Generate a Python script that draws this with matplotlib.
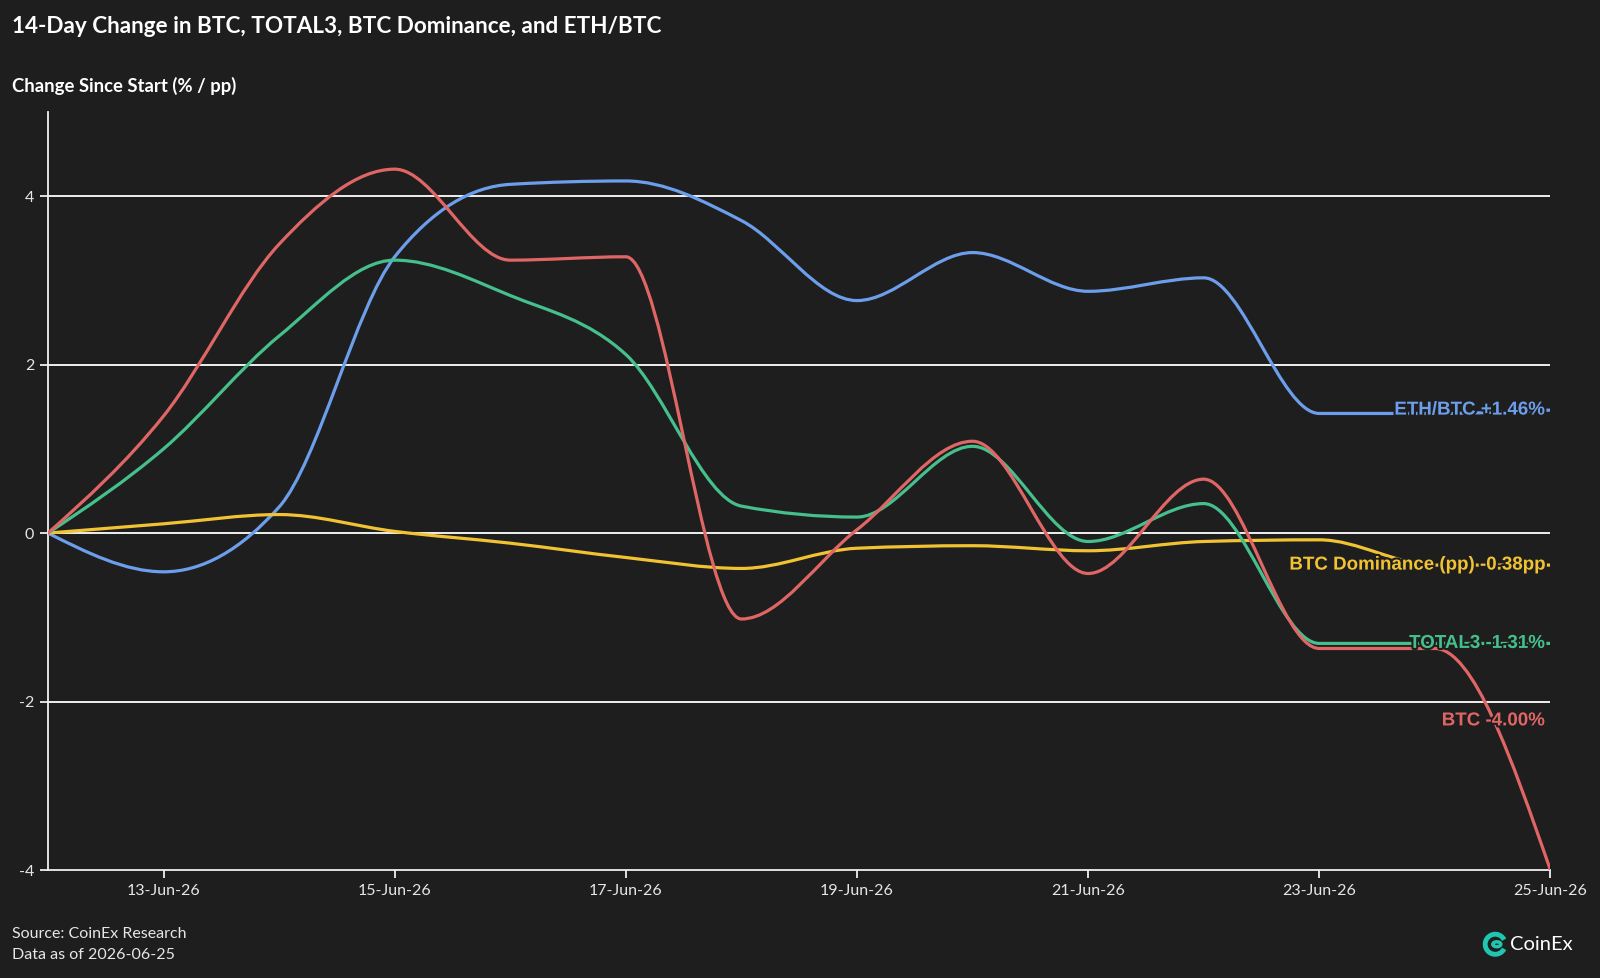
import matplotlib
matplotlib.use("Agg")
import matplotlib.pyplot as plt
import matplotlib.dates as mdates
import matplotlib.patheffects as pe
from matplotlib.path import Path
from matplotlib.patches import PathPatch, Arc, Circle
import numpy as np
import pandas as pd

# daily values (change since 12-Jun, % or pp)
dates = pd.date_range("2026-06-12", "2026-06-25", freq="D")
btc = [0.0, 1.39, 3.43, 4.32, 3.24, 3.28, -1.02, 0.04, 1.09, -0.48, 0.64, -1.37, -1.37, -4.00]
total3 = [0.0, 1.00, 2.34, 3.24, 2.82, 2.12, 0.32, 0.19, 1.03, -0.10, 0.35, -1.31, -1.31, -1.31]
btc_dom = [0.0, 0.11, 0.22, 0.02, -0.12, -0.29, -0.42, -0.18, -0.15, -0.21, -0.10, -0.08, -0.38, -0.38]
eth_btc = [0.0, -0.46, 0.31, 3.28, 4.14, 4.18, 3.71, 2.76, 3.33, 2.87, 3.03, 1.42, 1.42, 1.46]

series_names = ["ETH/BTC", "BTC Dominance (pp)", "TOTAL3", "BTC"]
series_vals = [eth_btc, btc_dom, total3, btc]
end_labels = ["ETH/BTC +1.46%", "BTC Dominance (pp) -0.38pp", "TOTAL3 -1.31%", "BTC -4.00%"]
label_y = [1.46, -0.38, -1.31, -2.23]
colors = ["#6d9eeb", "#f1c232", "#45c08c", "#e06666"]

BG = "#1e1e1e"


def monotone_path(x, y):
    # cubic bezier path like d3.curveMonotoneX
    x = np.asarray(x, float)
    y = np.asarray(y, float)
    h = np.diff(x)
    s = np.diff(y) / h
    n = len(x)
    t = np.zeros(n)
    for i in range(1, n - 1):
        p = (s[i - 1] * h[i] + s[i] * h[i - 1]) / (h[i - 1] + h[i])
        t[i] = (np.sign(s[i - 1]) + np.sign(s[i])) * min(abs(s[i - 1]), abs(s[i]), 0.5 * abs(p))
    t[0] = (3 * s[0] - t[1]) / 2
    t[-1] = (3 * s[-1] - t[-2]) / 2
    verts = [(x[0], y[0])]
    codes = [Path.MOVETO]
    for i in range(n - 1):
        d = h[i] / 3
        verts += [(x[i] + d, y[i] + d * t[i]), (x[i + 1] - d, y[i + 1] - d * t[i + 1]), (x[i + 1], y[i + 1])]
        codes += [Path.CURVE4] * 3
    return Path(verts, codes)


plt.rcParams["font.family"] = ["Lato", "DejaVu Sans"]

fig = plt.figure(figsize=(16, 9.781), dpi=100, facecolor=BG)
ax = fig.add_axes([0.030, 0.1104, 0.939, 0.7751])
ax.set_facecolor(BG)

xnum = mdates.date2num(dates)
for name, vals, col in zip(series_names, series_vals, colors):
    ax.add_patch(PathPatch(monotone_path(xnum, vals), facecolor="none", edgecolor=col,
                           lw=2.3, capstyle="round", joinstyle="round", zorder=3))

for txt, yv, col in zip(end_labels, label_y, colors):
    ax.annotate(txt, xy=(xnum[-1], yv), xytext=(-4, 0), textcoords="offset points",
                ha="right", va="center", color=col, fontsize=13.5, fontweight="bold",
                family="Liberation Sans", zorder=5,
                path_effects=[pe.withStroke(linewidth=3, foreground=BG)])

ax.set_xlim(xnum[0], xnum[-1])
ax.set_ylim(-4, 5)
ax.set_yticks([-4, -2, 0, 2, 4])
ax.set_yticklabels(["-4", "-2", "0", "2", "4"])
ax.set_xticks(xnum[1::2])
ax.xaxis.set_major_formatter(mdates.DateFormatter("%d-%b-%y"))

for yv in [-2, 0, 2, 4]:
    ax.axhline(yv, color="white", lw=1.3, zorder=1)

for side in ["top", "right"]:
    ax.spines[side].set_visible(False)
for side in ["left", "bottom"]:
    ax.spines[side].set_color("#f0f0f0")
    ax.spines[side].set_linewidth(1.3)
ax.tick_params(colors="#f0f0f0", labelcolor="#e6e6e6", labelsize=11.5, length=6, width=1.3, pad=4)

fig.text(0.0075, 0.973, "14-Day Change in BTC, TOTAL3, BTC Dominance, and ETH/BTC",
         color="white", fontsize=16.2, fontweight="bold", va="center")
fig.text(0.0075, 0.912, "Change Since Start (% / pp)", color="white", fontsize=13.3,
         fontweight="bold", va="center")
fig.text(0.0075, 0.045, "Source: CoinEx Research", color="#e6e6e6", fontsize=11.5, va="center")
fig.text(0.0075, 0.0235, "Data as of 2026-06-25", color="#e6e6e6", fontsize=11.5, va="center")

# CoinEx logo
fig.patches.append(Arc((0.9345, 0.0345), 0.0125, 0.0205, theta1=40, theta2=320,
                       transform=fig.transFigure, color="#1fc7b0", lw=3.5))
fig.patches.append(Circle((0.9355, 0.0345), 0.0025, transform=fig.transFigure,
                          facecolor="none", edgecolor="#1fc7b0", lw=2.5))
fig.text(0.9435, 0.0345, "CoinEx", color="white", fontsize=14.5, va="center")

fig.savefig("out.png", dpi=100, facecolor=BG)
